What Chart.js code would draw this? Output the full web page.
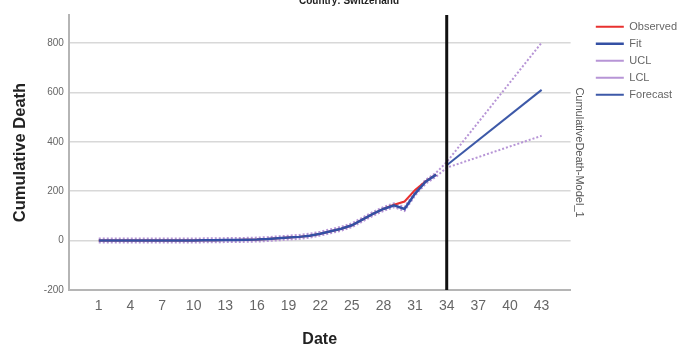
<!DOCTYPE html>
<html>
<head>
<meta charset="utf-8">
<script src="https://cdn.jsdelivr.net/npm/chart.js@4/dist/chart.umd.min.js"></script>
<style>
    html, body { margin: 0; padding: 0; background: #fff; }
    #wrap { width: 683px; height: 347px; }
</style>
</head>
<body>
<div id="wrap"><canvas id="forecast-chart"></canvas></div>
<script>
// Switzerland cumulative deaths, observed + model fit + forecast

const fitDates = [1, 2, 3, 4, 5, 6, 7, 8, 9, 10, 11, 12, 13, 14, 15, 16, 17, 18, 19, 20,
    21, 22, 23, 24, 25, 26, 27, 28, 29, 30, 31, 32, 33];
const observed = [0, 0, 0, 0, 0, 0, 0, 0, 0, 0, 1, 1, 2, 2, 3, 4, 6, 9, 12, 15,
    20, 28, 38, 48, 62, 85, 108, 128, 145, 158, 205, 240, 267];
const fitted = [0, 0, 0, 0, 0, 0, 0, 0, 0, 0, 1, 1, 2, 2, 3, 4, 6, 9, 12, 15,
    20, 28, 38, 48, 62, 85, 108, 128, 143, 128, 190, 238, 267];
const uclFit = [8, 8, 8, 8, 8, 8, 8, 8, 8, 8, 9, 9, 10, 10, 11, 12, 14, 17, 20, 23,
    28, 36, 46, 56, 70, 93, 116, 136, 151, 136, 198, 246, 275];
const lclFit = [-8, -8, -8, -8, -8, -8, -8, -8, -8, -8, -7, -7, -6, -6, -5, -4, -2, 1, 4, 7,
    12, 20, 30, 40, 54, 77, 100, 120, 135, 120, 182, 230, 259];

const forecastDates = [34, 43];
const forecast = [305, 610];
const uclForecast = [318, 801];
const lclForecast = [295, 424];

const xTicks = [1, 4, 7, 10, 13, 16, 19, 22, 25, 28, 31, 34, 37, 40, 43];
const yTicks = [-200, 0, 200, 400, 600, 800];
const forecastStart = 34;

function toPoints(xs, ys) {
    return xs.map((x, i) => ({ x: x, y: ys[i] }));
}

// Vertical black line at forecast origin
const originLine = {
    id: 'originLine',
    afterDatasetsDraw(chart) {
        const x = chart.scales.x.getPixelForValue(forecastStart);
        const area = chart.chartArea;
        const ctx = chart.ctx;
        ctx.save();
        ctx.strokeStyle = '#111';
        ctx.lineWidth = 3;
        ctx.beginPath();
        ctx.moveTo(x, area.top);
        ctx.lineTo(x, area.bottom);
        ctx.stroke();
        ctx.restore();
    }
};

const ctx = document.getElementById('forecast-chart').getContext('2d');
const chart = new Chart(ctx, {
    type: 'line',
    data: {
        datasets: [{
            label: 'Observed',
            data: toPoints(fitDates, observed),
            borderColor: '#e8312f',
            backgroundColor: '#e8312f',
            borderWidth: 2,
            pointRadius: 0,
            order: 2
        }, {
            label: 'Fit',
            data: toPoints(fitDates, fitted),
            borderColor: '#3450a4',
            backgroundColor: '#3450a4',
            borderWidth: 2.5,
            pointRadius: 0,
            order: 1
        }, {
            label: 'UCL',
            data: toPoints(fitDates, uclFit).concat(toPoints(forecastDates, uclForecast)),
            borderColor: '#b795d6',
            backgroundColor: '#b795d6',
            borderWidth: 2,
            borderDash: [2, 2],
            pointRadius: 0,
            order: 3
        }, {
            label: 'LCL',
            data: toPoints(fitDates, lclFit).concat(toPoints(forecastDates, lclForecast)),
            borderColor: '#b795d6',
            backgroundColor: '#b795d6',
            borderWidth: 2,
            borderDash: [2, 2],
            pointRadius: 0,
            order: 3
        }, {
            label: 'Forecast',
            data: toPoints(forecastDates, forecast),
            borderColor: '#3d59a8',
            backgroundColor: '#3d59a8',
            borderWidth: 2,
            pointRadius: 0,
            order: 1
        }]
    },
    options: {
        responsive: true,
        maintainAspectRatio: false,
        animation: false,
        layout: {
            padding: { left: 11, right: -4, top: 0, bottom: -2 }
        },
        plugins: {
            title: {
                display: true,
                text: 'Country: Switzerland',
                color: '#222',
                font: { family: 'Liberation Sans', size: 10, weight: 'bold' },
                padding: { top: -5, bottom: 8 }
            },
            legend: {
                position: 'right',
                align: 'start',
                title: {
                    display: true,
                    text: ' ',
                    font: { family: 'Liberation Sans', size: 11 },
                    padding: { top: 0, bottom: 2 }
                },
                labels: {
                    usePointStyle: true,
                    pointStyle: 'line',
                    pointStyleWidth: 28,
                    color: '#666',
                    font: { family: 'Liberation Sans', size: 11 },
                    padding: 6,
                    sort: (a, b) => a.datasetIndex - b.datasetIndex
                }
            },
            tooltip: { enabled: false }
        },
        scales: {
            x: {
                type: 'linear',
                min: -1.84,
                max: 45.75,
                afterBuildTicks: function(scale) {
                    scale.ticks = xTicks.map(v => ({ value: v }));
                },
                grid: { display: false, drawTicks: false },
                border: { color: '#b5b5b5', width: 2 },
                ticks: {
                    color: '#666',
                    font: { family: 'Liberation Sans', size: 14 },
                    padding: 8,
                    maxRotation: 0,
                    autoSkip: false
                },
                title: {
                    display: true,
                    text: 'Date',
                    color: '#222',
                    font: { family: 'Liberation Sans', size: 16, weight: 'bold' },
                    padding: { top: 7, bottom: 0 }
                }
            },
            y: {
                min: -200,
                max: 913,
                afterBuildTicks: function(scale) {
                    scale.ticks = yTicks.map(v => ({ value: v }));
                },
                grid: {
                    drawTicks: false,
                    lineWidth: 1.5,
                    color: function(context) {
                        return context.tick && context.tick.value === -200 ? 'rgba(0,0,0,0)' : '#d8d8d8';
                    }
                },
                border: { color: '#b5b5b5', width: 2 },
                ticks: {
                    color: '#666',
                    font: { family: 'Liberation Sans', size: 10 },
                    padding: 5
                },
                title: {
                    display: true,
                    text: 'Cumulative Death',
                    color: '#222',
                    font: { family: 'Liberation Sans', size: 16.5, weight: 'bold' },
                    padding: { top: 0, bottom: 8 }
                }
            },
            y2: {
                position: 'right',
                min: -200,
                max: 913,
                grid: { display: false, drawTicks: false },
                border: { display: false },
                ticks: { display: false },
                title: {
                    display: true,
                    text: 'CumulativeDeath-Model_1',
                    color: '#555',
                    font: { family: 'Liberation Sans', size: 11 },
                    padding: { top: 4, bottom: 2 }
                }
            }
        }
    },
    plugins: [originLine]
});
</script>
</body>
</html>
